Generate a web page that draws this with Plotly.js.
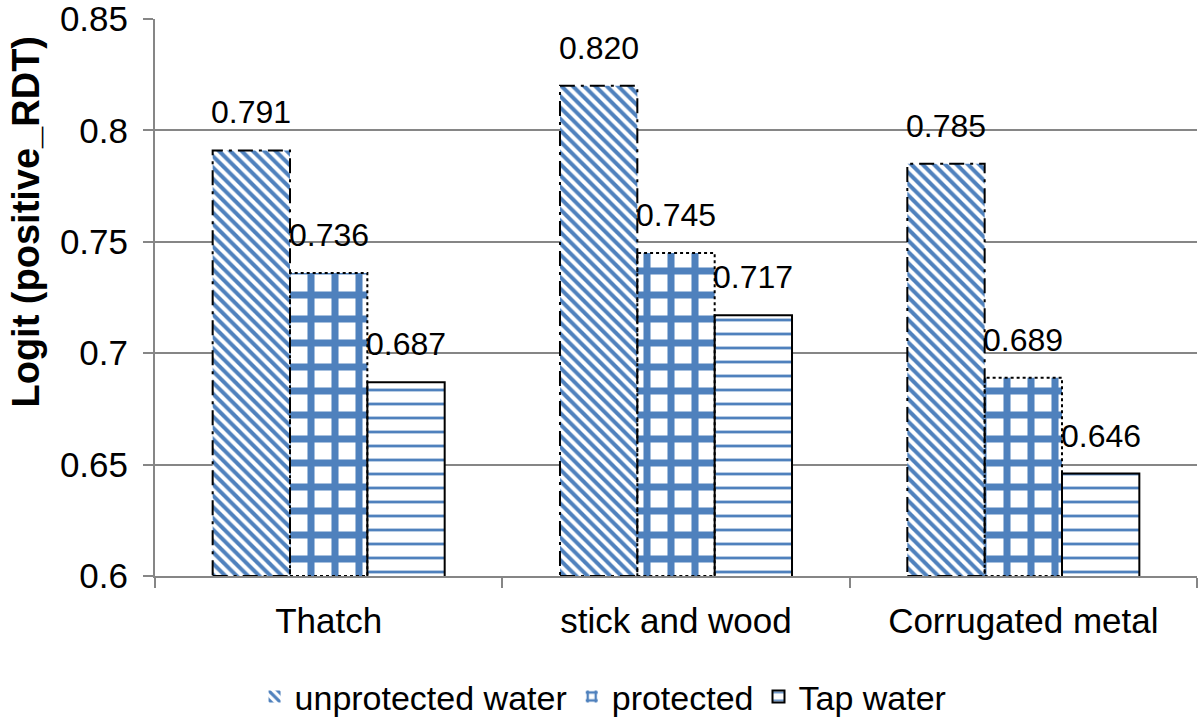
<!DOCTYPE html>
<html>
<head>
<meta charset="utf-8">
<script src="https://cdn.plot.ly/plotly-3.0.1.min.js"></script>
<style>html,body{margin:0;padding:0;background:#fff;}#chart{width:1200px;height:717px;}</style>
</head>
<body>
<div id="chart"></div>
<script>
const categories = ["Thatch", "stick and wood", "Corrugated metal"];
const seriesNames = ["unprotected water", "protected", "Tap water"];
const unprotected = [0.791, 0.820, 0.785];
const protectedW = [0.736, 0.745, 0.689];
const tapWater = [0.687, 0.717, 0.646];
const yTicks = [0.6, 0.65, 0.7, 0.75, 0.8, 0.85];
const yTickLabels = ["0.6", "0.65", "0.7", "0.75", "0.8", "0.85"];

const allSeries = [unprotected, protectedW, tapWater];
const blue = "#4F81BD";
const patterns = [
  {shape: "\\", size: 8, solidity: 0.5, fgcolor: blue, bgcolor: "#ffffff", fillmode: "replace"},
  {shape: "+", size: 24, solidity: 0.5, fgcolor: blue, bgcolor: "#ffffff", fillmode: "replace"},
  {shape: "-", size: 14, solidity: 0.2, fgcolor: blue, bgcolor: "#ffffff", fillmode: "replace"}
];
const outlineDash = ["longdashdot", "dot", "solid"];
const bargap = 0.332;
const yMin = 0.6, yMax = 0.85;
const fam = "Liberation Sans, Arial, sans-serif";

const traces = allSeries.map((vals, j) => ({
  type: "bar",
  name: seriesNames[j],
  x: categories,
  y: vals,
  base: 0,
  marker: {
    color: "#ffffff",
    pattern: patterns[j],
    line: {color: "#000000", width: j === 2 ? 2 : 0}
  },
  hoverinfo: "x+y"
}));

const groupW = 1 - bargap;
const barW = groupW / allSeries.length;
const shapes = [];
const annotations = [];
allSeries.forEach((vals, j) => {
  vals.forEach((v, i) => {
    const x0 = i - groupW / 2 + j * barW;
    if (j < 2) {
      shapes.push({
        type: "rect", xref: "x", yref: "y",
        x0: x0, x1: x0 + barW, y0: yMin, y1: v,
        line: {color: "#000000", width: 2, dash: outlineDash[j]},
        fillcolor: "rgba(0,0,0,0)", layer: "above"
      });
    }
    annotations.push({
      xref: "x", yref: "y", x: x0 + barW / 2, y: v,
      text: v.toFixed(3), showarrow: false, yanchor: "bottom", yshift: 18,
      font: {family: fam, size: 32, color: "#000000"}
    });
  });
});
annotations.push({
  xref: "paper", yref: "paper", x: -0.124, y: 0.636, xanchor: "center", yanchor: "middle",
  text: "<b>Logit (positive_RDT)</b>", textangle: -90, showarrow: false,
  font: {family: fam, size: 38, color: "#000000"}
});

const layout = {
  width: 1200, height: 717,
  margin: {l: 155, r: 3, t: 19, b: 141, autoexpand: false},
  paper_bgcolor: "#ffffff", plot_bgcolor: "#ffffff",
  font: {family: fam, size: 35, color: "#000000"},
  barmode: "group", bargap: bargap, bargroupgap: 0,
  showlegend: true,
  legend: {orientation: "h", x: 0.43, xanchor: "center", y: -0.217, yanchor: "middle",
           font: {size: 34}, itemwidth: 30, tracegroupgap: 0},
  xaxis: {
    type: "category", range: [-0.5, 2.5], automargin: false,
    showline: true, linecolor: "#868686", linewidth: 2,
    ticks: "outside", tickson: "boundaries", ticklen: 10, tickwidth: 2, tickcolor: "#868686",
    showgrid: false, tickfont: {size: 35}, ticklabelstandoff: 13
  },
  yaxis: {
    range: [yMin, yMax], tickvals: yTicks, ticktext: yTickLabels, automargin: false,
    showline: true, linecolor: "#868686", linewidth: 2,
    ticks: "outside", ticklen: 10, tickwidth: 2, tickcolor: "#868686",
    showgrid: true, gridcolor: "#868686", gridwidth: 2, zeroline: false,
    tickfont: {size: 35}, ticklabelstandoff: 8, ticklabeloverflow: "allow"
  },
  shapes: shapes,
  annotations: annotations
};

Plotly.newPlot("chart", traces, layout, {displayModeBar: false, staticPlot: true});
</script>
</body>
</html>
